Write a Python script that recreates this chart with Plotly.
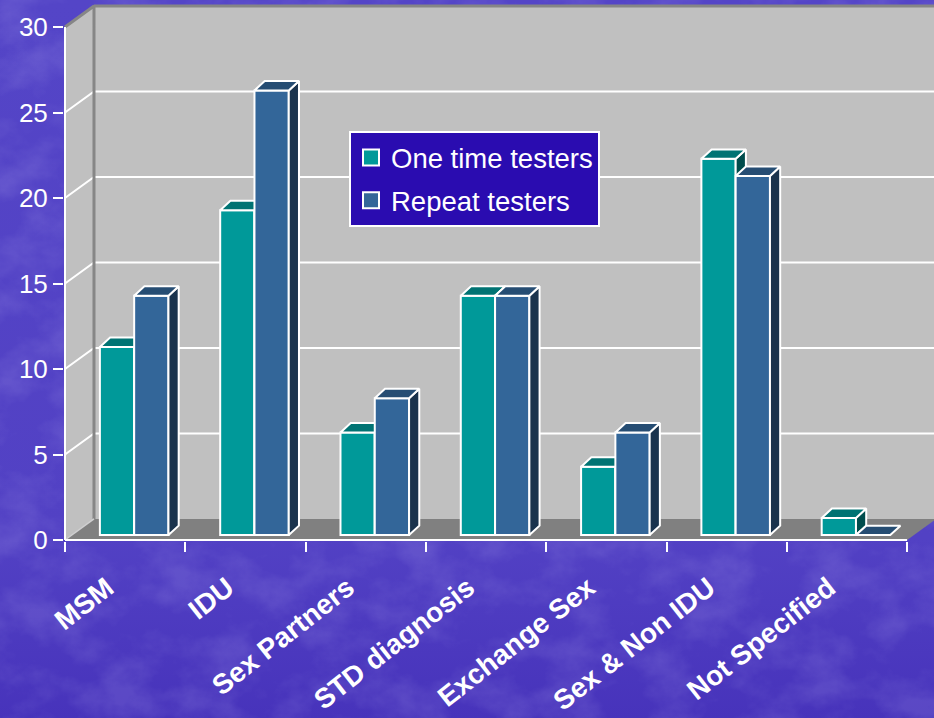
import base64
import plotly.graph_objects as go

# Chart content
categories = ["MSM", "IDU", "Sex Partners", "STD diagnosis", "Exchange Sex", "Sex & Non IDU", "Not Specified"]
one_time = [11, 19, 6, 14, 4, 22, 1]
repeat = [14, 26, 8, 14, 6, 21, 0]
y_ticks = [0, 5, 10, 15, 20, 25, 30]

# Pseudo-3D projection, in axis units
WALL_DX, WALL_DY = 0.241, 1.23
BAR_DX, BAR_DY = 0.085, 0.55
BAR_BASE = 0.29
BAR_W = 0.285
BAR_START = 0.29

# Pixels per axis unit, and the spare room the plot area keeps around the box
PX_X, PX_Y = 120.3, 17.1
PLOT_W, PLOT_H = 870, 538

WHITE = "#ffffff"
WALL = "#c0c0c0"
FLOOR = "#808080"
EDGE = "#868686"
TEAL = ("#009999", "#007373", "#004d4d")
BLUE = ("#336699", "#264d73", "#1a334d")

# Mottled slide backdrop
backdrop = """<svg xmlns="http://www.w3.org/2000/svg" width="934" height="718">
<defs>
<linearGradient id="g" x1="0" y1="0" x2="0" y2="1">
<stop offset="0" stop-color="#5445c7"/><stop offset="0.75" stop-color="#5241c4"/><stop offset="1" stop-color="#4733bb"/>
</linearGradient>
<filter id="n" x="0" y="0" width="100%" height="100%">
<feTurbulence type="fractalNoise" baseFrequency="0.02 0.025" numOctaves="5" seed="11"/>
<feColorMatrix type="matrix" values="0 0 0 0 0.5  0 0 0 0 0.45  0 0 0 0 0.9  2.4 0 0 0 -0.95"/>
</filter>
</defs>
<rect width="934" height="718" fill="url(#g)"/>
<rect width="934" height="718" filter="url(#n)" opacity="0.16"/>
</svg>"""
backdrop_uri = "data:image/svg+xml;base64," + base64.b64encode(backdrop.encode()).decode()

fig = go.Figure()
n = len(categories)
x_max, y_max = n, y_ticks[-1]


def polygons(rings):
    xs, ys = [], []
    for ring in rings:
        xs += [p[0] for p in ring] + [ring[0][0], None]
        ys += [p[1] for p in ring] + [ring[0][1], None]
    return xs, ys


def add_poly(rings, fill, line_color, width, z, name=None):
    xs, ys = polygons(rings)
    fig.add_trace(go.Scatter(
        x=xs, y=ys, mode="lines", fill="toself", fillcolor=fill,
        line=dict(color=line_color, width=width), cliponaxis=False,
        showlegend=False, hoverinfo="skip", zorder=z, name=name,
    ))


def add_line(xs, ys, color, width, z):
    fig.add_trace(go.Scatter(
        x=xs, y=ys, mode="lines", line=dict(color=color, width=width),
        cliponaxis=False, showlegend=False, hoverinfo="skip", zorder=z,
    ))


# Chart box: side wall, back wall, floor
add_poly([[(0, 0), (WALL_DX, WALL_DY), (WALL_DX, y_max + WALL_DY), (0, y_max)]], WALL, WALL, 0, -5)
add_poly([[(WALL_DX, WALL_DY), (x_max + WALL_DX, WALL_DY), (x_max + WALL_DX, y_max + WALL_DY), (WALL_DX, y_max + WALL_DY)]], WALL, WALL, 0, -5)
add_poly([[(0, 0), (x_max, 0), (x_max + WALL_DX, WALL_DY), (WALL_DX, WALL_DY)]], FLOOR, FLOOR, 0, -5)

# Gridlines wrap from the side wall onto the back wall
grid_x, grid_y = [], []
for t in y_ticks[1:-1]:
    grid_x += [0, WALL_DX, x_max + WALL_DX, None]
    grid_y += [t, t + WALL_DY, t + WALL_DY, None]
add_line(grid_x, grid_y, WHITE, 2, -4)

# Box outline
add_line([WALL_DX, WALL_DX, 0, None, WALL_DX, x_max + WALL_DX],
         [WALL_DY, y_max + WALL_DY, y_max, None, y_max + WALL_DY, y_max + WALL_DY], EDGE, 3, -3)
add_line([0, WALL_DX], [0, WALL_DY], "#d0d0d0", 1.5, -3)

# Bars: front faces as bar traces, then the top and side faces of each box
for s, (label, values, cols) in enumerate((("One time testers", one_time, TEAL), ("Repeat testers", repeat, BLUE))):
    left = [i + BAR_START + s * BAR_W for i in range(n)]
    fig.add_trace(go.Bar(
        x=[l + BAR_W / 2 for l in left], y=values, base=BAR_BASE, width=BAR_W,
        marker=dict(color=cols[0], line=dict(color=WHITE, width=2)),
        showlegend=False, name=label, zorder=1 + 2 * s,
    ))
    tops, sides = [], []
    for l, v in zip(left, values):
        r = l + BAR_W
        y0, y1 = BAR_BASE, BAR_BASE + v
        tops.append([(l, y1), (r, y1), (r + BAR_DX, y1 + BAR_DY), (l + BAR_DX, y1 + BAR_DY)])
        if v > 0:
            sides.append([(r, y0), (r + BAR_DX, y0 + BAR_DY), (r + BAR_DX, y1 + BAR_DY), (r, y1)])
    add_poly(sides, cols[2], WHITE, 2, 2 + 2 * s)
    add_poly(tops, cols[1], WHITE, 2, 2 + 2 * s)
    # Legend entry with a larger swatch than bar traces offer
    fig.add_trace(go.Scatter(
        x=[None], y=[None], mode="markers", name=label, legendgroup=label,
        marker=dict(symbol="square", size=16, color=cols[0], line=dict(color=WHITE, width=2)),
    ))

# Axis lines stop at the front edge of the box
add_line([0, x_max], [0, 0], WHITE, 2, 6)
add_line([0, 0], [0, y_max], WHITE, 2, 6)

fig.update_layout(
    width=934, height=718, autosize=False,
    margin=dict(l=64, r=0, t=3, b=177),
    paper_bgcolor="#5040c0", plot_bgcolor="rgba(0,0,0,0)",
    font=dict(family="Liberation Sans", color=WHITE, size=26),
    barmode="overlay", hovermode=False,
    images=[dict(source=backdrop_uri, xref="paper", yref="paper",
                 x=-64 / PLOT_W, y=1 + 3 / PLOT_H, sizex=934 / PLOT_W, sizey=718 / PLOT_H,
                 xanchor="left", yanchor="top", sizing="stretch", layer="below")],
    legend=dict(
        x=(349 - 64) / PLOT_W, y=1 - (131 - 3) / PLOT_H, xanchor="left", yanchor="top",
        bgcolor="#2a0cb0", bordercolor=WHITE, borderwidth=2,
        font=dict(size=27.5, color=WHITE), tracegroupgap=4, itemclick=False, itemdoubleclick=False,
    ),
    xaxis=dict(
        range=[-1 / PX_X, 869 / PX_X], showgrid=False, zeroline=False, showline=False,
        tickmode="array", tickvals=[i + 0.35 for i in range(n)], ticktext=categories,
        ticks="", tickangle=-38, ticklabelstandoff=24,
        tickfont=dict(size=28, color=WHITE, family="Liberation Sans", weight="bold"),
        minor=dict(ticks="outside", tickmode="linear", tick0=0, dtick=1, ticklen=10, tickwidth=2, tickcolor=WHITE, showgrid=False),
    ),
    yaxis=dict(
        range=[-1 / PX_Y, 537 / PX_Y], showgrid=False, zeroline=False, showline=False,
        tickmode="array", tickvals=y_ticks, ticks="outside", ticklen=10, tickwidth=2, tickcolor=WHITE,
        tickfont=dict(size=26, color=WHITE),
    ),
)

fig.write_html("out.html", config=dict(displayModeBar=False))
